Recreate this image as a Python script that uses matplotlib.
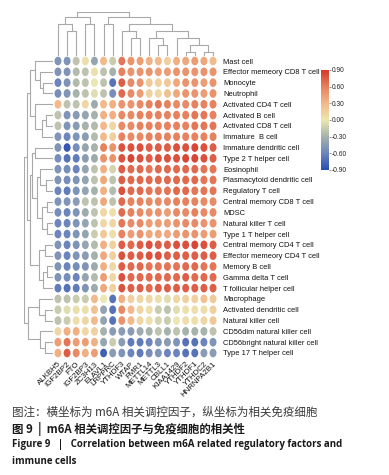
import matplotlib
matplotlib.use("Agg")
import matplotlib.pyplot as plt
import numpy as np
from matplotlib.collections import EllipseCollection
from matplotlib.colors import LinearSegmentedColormap, Normalize

regulators = ["ALKBH5", "IGF2BP2", "FTO", "IGF2BP3", "ZC3H13", "ELAVL1", "LRPPRC",
              "YTHDF3", "WTAP", "FMR1", "METTL14", "METTL3", "CBLL1", "KIAA1429",
              "YTHDF2", "YTHDF1", "YTHDC2", "HNRNPA2B1"]

immune_cells = ["Mast cell", "Effector memeory CD8 T cell", "Monocyte", "Neutrophil",
                "Activated CD4 T cell", "Activated B cell", "Activated CD8 T cell",
                "Immature  B cell", "Immature dendritic cell", "Type 2 T helper cell",
                "Eosinophil", "Plasmacytoid dendritic cell", "Regulatory T cell",
                "Central memory CD8 T cell", "MDSC", "Natural killer T cell",
                "Type 1 T helper cell", "Central memory CD4 T cell",
                "Effector memeory CD4 T cell", "Memory B cell", "Gamma delta T cell",
                "T follicular helper cell", "Macrophage", "Activated dendritic cell",
                "Natural killer cell", "CD56dim natural killer cell",
                "CD56bright natural killer cell", "Type 17 T helper cell"]

corr_values = [
    [-0.50, -0.50, -0.20, 0.05, -0.40, 0.30, -0.15, 0.65, 0.50, 0.45, 0.35, 0.30, 0.15, 0.35, 0.40, 0.45, 0.40, 0.30],
    [-0.50, -0.50, -0.25, -0.20, 0.05, -0.20, -0.30, 0.60, 0.50, 0.50, 0.50, 0.45, 0.45, 0.50, 0.50, 0.50, 0.50, 0.50],
    [-0.60, -0.50, -0.25, -0.20, 0.00, -0.20, -0.70, 0.75, 0.55, 0.50, 0.20, 0.15, 0.20, 0.40, 0.50, 0.50, 0.45, 0.50],
    [-0.55, -0.50, -0.30, -0.20, -0.05, -0.20, -0.55, 0.70, 0.55, 0.45, 0.15, 0.10, 0.25, 0.40, 0.50, 0.50, 0.45, 0.50],
    [0.30, -0.20, -0.20, 0.10, -0.35, 0.30, 0.35, 0.50, 0.50, 0.55, 0.60, 0.65, 0.60, 0.55, 0.55, 0.60, 0.60, 0.60],
    [-0.20, -0.50, -0.45, -0.40, -0.30, 0.35, 0.35, 0.55, 0.55, 0.60, 0.60, 0.60, 0.60, 0.60, 0.60, 0.65, 0.65, 0.60],
    [-0.20, -0.50, -0.45, -0.30, -0.25, 0.30, 0.10, 0.55, 0.55, 0.60, 0.60, 0.60, 0.60, 0.60, 0.60, 0.65, 0.65, 0.65],
    [-0.50, -0.60, -0.50, -0.45, -0.25, 0.30, 0.15, 0.60, 0.55, 0.55, 0.60, 0.60, 0.60, 0.60, 0.60, 0.60, 0.60, 0.60],
    [-0.50, -0.85, -0.55, -0.40, -0.30, 0.60, 0.50, 0.80, 0.80, 0.80, 0.75, 0.75, 0.75, 0.80, 0.80, 0.85, 0.80, 0.75],
    [-0.55, -0.70, -0.65, -0.45, -0.35, 0.50, 0.50, 0.80, 0.85, 0.80, 0.75, 0.80, 0.80, 0.80, 0.85, 0.85, 0.80, 0.75],
    [-0.50, -0.55, -0.60, -0.40, -0.20, 0.35, -0.10, 0.75, 0.70, 0.70, 0.65, 0.70, 0.70, 0.70, 0.70, 0.70, 0.65, 0.65],
    [-0.50, -0.55, -0.50, -0.40, -0.20, 0.40, -0.20, 0.75, 0.70, 0.70, 0.70, 0.70, 0.70, 0.70, 0.70, 0.70, 0.65, 0.65],
    [-0.60, -0.65, -0.50, -0.40, -0.30, 0.35, -0.25, 0.80, 0.70, 0.70, 0.65, 0.65, 0.65, 0.70, 0.70, 0.65, 0.65, 0.65],
    [-0.50, -0.50, -0.45, -0.20, -0.20, 0.40, -0.20, 0.70, 0.60, 0.60, 0.55, 0.55, 0.55, 0.60, 0.60, 0.60, 0.55, 0.55],
    [-0.55, -0.60, -0.50, -0.35, -0.20, 0.10, 0.05, 0.70, 0.60, 0.55, 0.50, 0.50, 0.45, 0.55, 0.55, 0.60, 0.55, 0.55],
    [-0.60, -0.60, -0.50, -0.40, -0.20, 0.10, 0.10, 0.65, 0.55, 0.55, 0.45, 0.45, 0.45, 0.50, 0.55, 0.55, 0.50, 0.50],
    [-0.60, -0.60, -0.50, -0.40, -0.15, 0.20, 0.05, 0.60, 0.45, 0.50, 0.40, 0.40, 0.40, 0.45, 0.50, 0.50, 0.45, 0.45],
    [-0.50, -0.60, -0.50, -0.40, -0.25, 0.35, 0.15, 0.75, 0.70, 0.75, 0.80, 0.75, 0.75, 0.80, 0.80, 0.85, 0.80, 0.75],
    [-0.50, -0.60, -0.50, -0.45, -0.30, 0.40, 0.15, 0.80, 0.75, 0.75, 0.80, 0.80, 0.75, 0.75, 0.75, 0.75, 0.75, 0.75],
    [-0.50, -0.60, -0.55, -0.50, -0.35, 0.35, 0.10, 0.75, 0.70, 0.70, 0.65, 0.65, 0.65, 0.65, 0.70, 0.70, 0.65, 0.65],
    [-0.50, -0.55, -0.60, -0.40, -0.25, 0.45, 0.10, 0.80, 0.70, 0.70, 0.70, 0.70, 0.70, 0.70, 0.75, 0.70, 0.70, 0.70],
    [-0.65, -0.70, -0.65, -0.50, -0.35, 0.40, 0.15, 0.80, 0.75, 0.75, 0.70, 0.75, 0.75, 0.75, 0.75, 0.75, 0.75, 0.75],
    [-0.20, -0.20, -0.15, -0.15, 0.30, 0.00, -0.70, 0.35, 0.15, 0.10, 0.10, 0.05, -0.05, 0.10, 0.15, 0.15, 0.25, 0.20],
    [-0.15, -0.05, 0.05, 0.05, 0.25, -0.40, -0.70, 0.55, 0.30, 0.10, 0.05, -0.15, -0.20, -0.05, 0.05, 0.05, 0.05, 0.15],
    [-0.20, -0.15, 0.05, 0.10, 0.30, -0.40, -0.70, 0.50, 0.30, 0.10, 0.05, -0.10, -0.15, 0.00, 0.05, 0.05, 0.10, 0.20],
    [0.10, 0.35, 0.35, 0.10, 0.15, -0.30, -0.45, -0.45, -0.45, -0.35, -0.30, -0.20, -0.30, -0.20, -0.30, -0.30, -0.30, -0.20],
    [0.45, 0.65, 0.45, 0.45, 0.35, -0.40, -0.15, -0.45, -0.65, -0.65, -0.60, -0.50, -0.45, -0.50, -0.70, -0.70, -0.60, -0.50],
    [0.35, 0.75, 0.55, 0.35, 0.45, -0.80, -0.45, -0.50, -0.60, -0.65, -0.55, -0.50, -0.60, -0.60, -0.70, -0.70, -0.45, -0.45],
]

# dendrogram trees: (left, right, height); ints are leaves
col_left = ((0, (1, 2, 56), 72), (3, 4, 72), 88)
col_right = ((5, 6, 72),
             ((7, (8, 9, 40), 56),
              ((10, (11, 12, 24), 40),
               (13, ((14, 15, 8), (16, 17, 8), 24), 40), 56), 72), 88)
col_tree = (col_left, col_right, 100)

row_a = ((0, (1, (2, 3, 34), 45), 62), (4, ((5, 6, 25), 7, 40), 62), 80)
row_m1 = ((8, 9, 62), ((10, (11, 12, 25), 45), ((13, 14, 20), (15, 16, 20), 40), 55), 72)
row_m2 = ((17, 18, 30), ((19, 20, 20), 21, 35), 50)
row_upper = (row_a, (row_m1, row_m2, 78), 88)
row_lower = ((22, (23, 24, 30), 50), (25, (26, 27, 30), 45), 85)
row_tree = (row_upper, row_lower, 100)

cmap_colors = ["#2B4DB0", "#6E86BC", "#A6B2AC", "#ECE7B2", "#F3B98A", "#E7825F", "#D5392D"]
cbar_ticks = [0.90, 0.60, 0.30, 0.00, -0.30, -0.60, -0.90]

W, H = 389, 475
fig = plt.figure(figsize=(W / 100, H / 100), dpi=100)


def px_axes(x0, y0, x1, y1):
    return fig.add_axes([x0 / W, 1 - y1 / H, (x1 - x0) / W, (y1 - y0) / H])


cmap = LinearSegmentedColormap.from_list("corr", cmap_colors)
norm = Normalize(-0.9, 0.9)

data = np.array(corr_values)
nr, nc = data.shape

# main grid
ax = px_axes(53.4, 55.6, 217.6, 358.4)
xx, yy = np.meshgrid(np.arange(nc), np.arange(nr))
offsets = np.column_stack([xx.ravel(), yy.ravel()])
ec = EllipseCollection(np.full(nr * nc, 0.76), np.full(nr * nc, 0.80), np.zeros(nr * nc),
                       units="xy", offsets=offsets, offset_transform=ax.transData,
                       cmap=cmap, norm=norm, edgecolors="none")
ec.set_array(data.ravel())
ax.add_collection(ec)
ax.set_xlim(-0.5, nc - 0.5)
ax.set_ylim(nr - 0.5, -0.5)
for s in ax.spines.values():
    s.set_visible(False)
ax.yaxis.tick_right()
ax.set_yticks(range(nr))
ax.set_yticklabels(immune_cells, fontsize=5.45, family="Liberation Sans", color="#111111")
ax.set_xticks(range(nc))
ax.set_xticklabels(regulators, fontsize=5.7, family="Liberation Sans", color="#111111",
                   rotation=45, ha="right", va="top", rotation_mode="anchor")
ax.tick_params(axis="both", length=0)
ax.tick_params(axis="y", pad=4.0)
ax.tick_params(axis="x", pad=1.5)


def draw_tree(axd, tree, orient):
    def rec(node):
        if isinstance(node, int):
            return float(node), 0.0
        l, r, h = node
        pl, hl = rec(l)
        pr, hr = rec(r)
        ps = [pl, pl, pr, pr]
        hs = [hl, h, h, hr]
        if orient == "top":
            axd.plot(ps, hs, color="#A9A9A9", lw=0.8, solid_capstyle="butt")
        else:
            axd.plot(hs, ps, color="#A9A9A9", lw=0.8, solid_capstyle="butt")
        return (pl + pr) / 2, h
    rec(tree)
    axd.axis("off")


axt = px_axes(53.4, 11.5, 217.6, 55.6)
draw_tree(axt, col_tree, "top")
axt.set_xlim(-0.5, nc - 0.5)
axt.set_ylim(0, 101)

axl = px_axes(23.5, 55.6, 53.4, 358.4)
draw_tree(axl, row_tree, "left")
axl.set_ylim(nr - 0.5, -0.5)
axl.set_xlim(101, 0)

# colorbar
cax = px_axes(320.5, 70, 328.5, 170)
grad = np.linspace(-0.9, 0.9, 256).reshape(-1, 1)
cax.imshow(grad, aspect="auto", cmap=cmap, norm=norm, origin="lower",
           extent=[0, 1, -0.9, 0.9])
cax.set_xticks([])
cax.yaxis.tick_right()
cax.set_yticks(cbar_ticks)
cax.set_yticklabels([f"{t:.2f}" for t in cbar_ticks],
                    fontsize=4.8, family="Liberation Sans", color="#222222")
cax.tick_params(axis="y", length=1.5, width=0.5, pad=1, color="#666666")
for s in cax.spines.values():
    s.set_visible(False)

# caption
cjk = ["Noto Sans CJK SC", "DejaVu Sans"]
fig.text(12 / W, 1 - 412 / H, "图注：横坐标为 m6A 相关调控因子，纵坐标为相关免疫细胞",
         family=cjk, fontsize=8.3, color="#3a3a3a", va="center", ha="left")
fig.text(12 / W, 1 - 428.5 / H, "图 9  |  m6A 相关调控因子与免疫细胞的相关性",
         family=cjk, fontsize=8.2, color="#1a1a1a", va="center", ha="left", weight="bold")
fig.text(12 / W, 1 - 445 / H,
         "Figure 9   |   Correlation between m6A related regulatory factors and",
         family=["Open Sans", "DejaVu Sans"], fontsize=7.07, color="#1a1a1a",
         va="center", ha="left", weight="bold")
fig.text(12 / W, 1 - 461 / H, "immune cells",
         family=["Open Sans", "DejaVu Sans"], fontsize=7.07, color="#1a1a1a",
         va="center", ha="left", weight="bold")

fig.savefig("out.png", dpi=100, facecolor="white")
